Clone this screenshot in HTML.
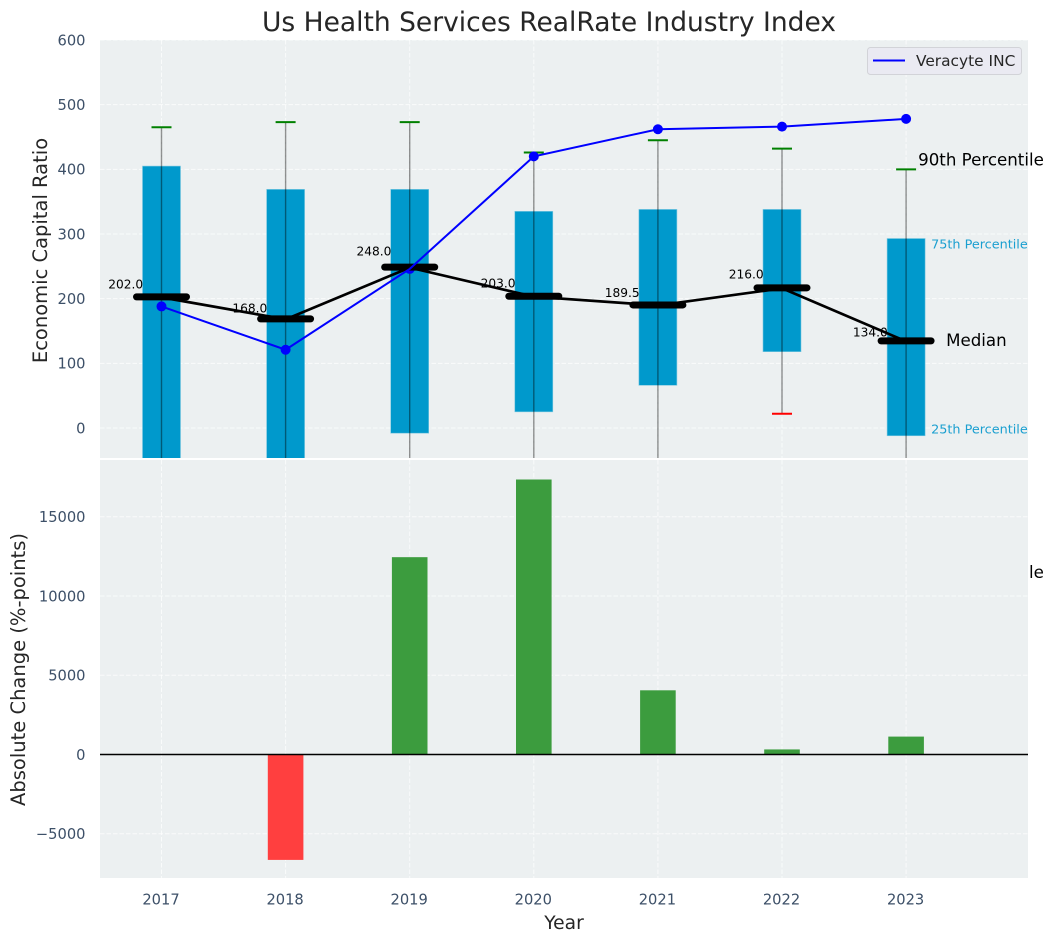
<!DOCTYPE html>
<html lang="en">
<head>
<meta charset="utf-8">
<title>Us Health Services RealRate Industry Index</title>
<style>
html,body{margin:0;padding:0;background:#fff;}
svg{display:block;font-family:"DejaVu Sans","Liberation Sans",sans-serif;}
</style>
</head>
<body>
<svg id="chart" xmlns="http://www.w3.org/2000/svg" width="1053" height="942" viewBox="0 0 1053 942">
  <defs>
    <clipPath id="clip-top"><rect x="100" y="40" width="928" height="418"/></clipPath>
    <clipPath id="clip-bottom"><rect x="100" y="460" width="928" height="418"/></clipPath>
  </defs>
  <rect x="0" y="0" width="1053" height="942" fill="#ffffff"/>
  <text x="549" y="31" text-anchor="middle" font-size="26.5" fill="#262626">Us Health Services RealRate Industry Index</text>
  <text transform="translate(47,250.5) rotate(-90)" text-anchor="middle" font-size="19.5" fill="#262626">Economic Capital Ratio</text>
  <text transform="translate(25,669.5) rotate(-90)" text-anchor="middle" font-size="19.5" fill="#262626">Absolute Change (%-points)</text>
  <text x="564" y="929" text-anchor="middle" font-size="18.67" fill="#262626">Year</text>
  <g id="top-panel"></g>
  <g id="bottom-panel"></g>
  <g id="legend">
    <rect x="867.5" y="47.5" width="154" height="27" rx="3" fill="#eaeaf2" stroke="#d2d3d8" stroke-width="1"/>
    <line x1="873" x2="905" y1="60.5" y2="60.5" stroke="#0000ff" stroke-width="2"/>
    <text x="916" y="66" font-size="15.4" fill="#262626">Veracyte INC</text>
  </g>
</svg>
<script>
var years = [2017, 2018, 2019, 2020, 2021, 2022, 2023];
var p90 = [465, 473, 473, 426, 445, 432, 400];
var p75 = [405, 369, 369, 335, 338, 338, 293];
var medians = [202, 168, 248, 203, 189.5, 216, 134];
var p25 = [-70, -60, -8, 25, 66, 118, -12];
var p10 = [-160, -150, -120, -110, -90, 22, -100];
var companyValues = [188, 121, 246, 420, 462, 466, 478];
var absoluteChange = [0, -6650, 12450, 17350, 4050, 320, 1130];
var topTicks = [0, 100, 200, 300, 400, 500, 600];
var bottomTicks = [-5000, 0, 5000, 10000, 15000];

var NS = 'http://www.w3.org/2000/svg';
function x(year) { return 161.5 + (year - 2017) * 124.1; }
function yTop(v) { return 428 - v * 0.6467; }
function yBot(v) { return 754.5 - v * 0.01585; }
function make(tag, attrs, parent, txt) {
  var node = document.createElementNS(NS, tag);
  for (var k in attrs) node.setAttribute(k, attrs[k]);
  if (txt !== undefined) node.textContent = txt;
  parent.appendChild(node);
  return node;
}
var topPanel = document.getElementById('top-panel');
var bottomPanel = document.getElementById('bottom-panel');
var el;

/* top panel background */
el = make('rect', {x: 100, y: 40, width: 928, height: 418, fill: '#ecf0f1'}, topPanel);



var topClip = make('g', {'clip-path': 'url(#clip-top)'}, topPanel);



topTicks.forEach(function (t) {
  el = make('line', {x1: 100, x2: 1028, y1: yTop(t), y2: yTop(t), stroke: '#ffffff', 'stroke-width': 1, 'stroke-dasharray': '4.5 2', 'stroke-opacity': 0.7}, topClip);
  
  
  el = make('text', {x: 85.5, y: yTop(t) + 5.3, 'text-anchor': 'end', 'font-size': 14.67, fill: '#3d5068'}, topPanel, String(t));
  
  
});
years.forEach(function (yr) {
  el = make('line', {x1: x(yr), x2: x(yr), y1: 40, y2: 458, stroke: '#ffffff', 'stroke-width': 1, 'stroke-dasharray': '4.5 2', 'stroke-opacity': 0.7}, topClip);
  
  
});

/* percentile boxes */
years.forEach(function (yr, i) {
  el = make('rect', {x: x(yr) - 19, y: yTop(p75[i]), width: 38, height: yTop(p25[i]) - yTop(p75[i]), fill: '#0099cc', stroke: '#7cc8e0', 'stroke-width': 0.6}, topClip);
  
  
});
/* whiskers */
years.forEach(function (yr, i) {
  el = make('line', {x1: x(yr), x2: x(yr), y1: yTop(p90[i]), y2: yTop(p10[i]), stroke: '#000000', 'stroke-opacity': 0.42, 'stroke-width': 1.4}, topClip);
  
  
  el = make('line', {x1: x(yr) - 10, x2: x(yr) + 10, y1: yTop(p90[i]), y2: yTop(p90[i]), stroke: '#008000', 'stroke-width': 2}, topClip);
  
  
  el = make('line', {x1: x(yr) - 10, x2: x(yr) + 10, y1: yTop(p10[i]), y2: yTop(p10[i]), stroke: '#ff0000', 'stroke-width': 2}, topClip);
  
  
});
/* company markers */
years.forEach(function (yr, i) {
  el = make('circle', {cx: x(yr), cy: yTop(companyValues[i]), r: 5, fill: '#0000ff'}, topClip);
  
  
});
/* median connector */
el = make('polyline', {points: years.map(function (yr, i) { return x(yr) + ',' + yTop(medians[i]); }).join(' '), fill: 'none', stroke: '#000000', 'stroke-width': 2.7}, topClip);


/* median caps */
years.forEach(function (yr, i) {
  el = make('line', {x1: x(yr) - 25, x2: x(yr) + 25, y1: yTop(medians[i]) - 0.5, y2: yTop(medians[i]) - 0.5, stroke: '#000000', 'stroke-width': 7, 'stroke-linecap': 'round'}, topClip);
  
  
});
/* company line */
el = make('polyline', {points: years.map(function (yr, i) { return x(yr) + ',' + yTop(companyValues[i]); }).join(' '), fill: 'none', stroke: '#0000ff', 'stroke-width': 2}, topClip);


/* median value labels */
years.forEach(function (yr, i) {
  el = make('text', {x: x(yr) - 18.3, y: yTop(medians[i] * 1.1) + 4, 'text-anchor': 'end', 'font-size': 12.2, fill: '#000000'}, topPanel, medians[i].toFixed(1));
  
  
});
/* annotations for the last box */
var lastX = x(years[years.length - 1]);
el = make('text', {x: lastX + 12, y: 165.5, 'font-size': 16.67, fill: '#000000'}, topPanel, '90th Percentile');


el = make('text', {x: lastX + 25, y: 248.5, 'font-size': 12.8, fill: '#1a9fd0'}, topPanel, '75th Percentile');


el = make('text', {x: lastX + 40, y: 346, 'font-size': 16.67, fill: '#000000'}, topPanel, 'Median');


el = make('text', {x: lastX + 25, y: 433.5, 'font-size': 12.8, fill: '#1a9fd0'}, topPanel, '25th Percentile');


el = make('text', {x: lastX + 12, y: 578, 'font-size': 16.67, fill: '#000000'}, topPanel, '10th Percentile');



/* bottom panel */
el = make('rect', {x: 100, y: 460, width: 928, height: 418, fill: '#ecf0f1'}, bottomPanel);



var bottomClip = make('g', {'clip-path': 'url(#clip-bottom)'}, bottomPanel);



bottomTicks.forEach(function (t) {
  el = make('line', {x1: 100, x2: 1028, y1: yBot(t), y2: yBot(t), stroke: '#ffffff', 'stroke-width': 1, 'stroke-dasharray': '4.5 2', 'stroke-opacity': 0.7}, bottomClip);
  
  
  el = make('text', {x: 85.5, y: yBot(t) + 5.3, 'text-anchor': 'end', 'font-size': 14.67, fill: '#3d5068'}, bottomPanel, String(t).replace('-', '\u2212'));
  
  
});
years.forEach(function (yr) {
  el = make('line', {x1: x(yr), x2: x(yr), y1: 460, y2: 878, stroke: '#ffffff', 'stroke-width': 1, 'stroke-dasharray': '4.5 2', 'stroke-opacity': 0.7}, bottomClip);
  
  
  el = make('text', {x: x(yr) - 0.5, y: 904.5, 'text-anchor': 'middle', 'font-size': 14.67, fill: '#3d5068'}, bottomPanel, String(yr));
  
  
});
years.forEach(function (yr, i) {
  var v = absoluteChange[i];
  var y0 = yBot(Math.max(v, 0));
  var y1 = yBot(Math.min(v, 0));
  el = make('rect', {x: x(yr) - 17.8, y: y0, width: 35.6, height: y1 - y0, fill: v >= 0 ? '#3c9c3e' : '#ff3f3f'}, bottomClip);
  
  
});
el = make('line', {x1: 100, x2: 1028, y1: yBot(0), y2: yBot(0), stroke: '#000000', 'stroke-width': 1.4}, bottomClip);


</script>
</body>
</html>
